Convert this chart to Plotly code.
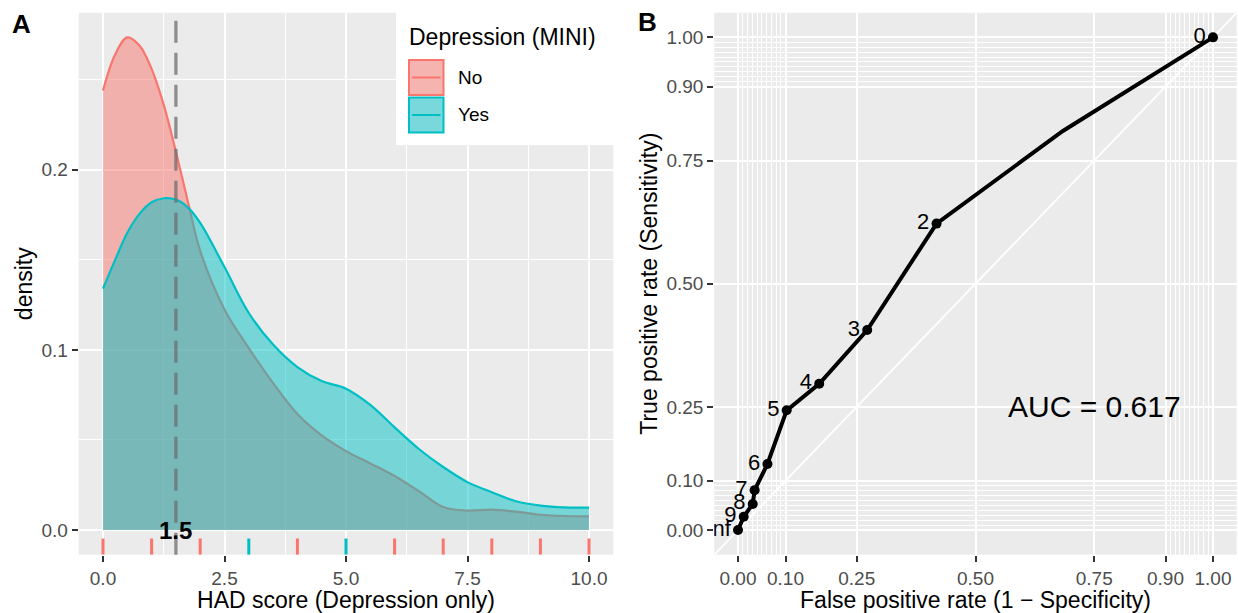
import plotly.graph_objects as go

# ---------------- data ----------------
# Panel A: density of HAD depression score by MINI depression status
dens_x = [0, 0.25, 0.5, 0.75, 1.0, 1.25, 1.5, 1.75, 2.0, 2.5, 3.0, 3.5, 4.0, 4.5,
          5.0, 5.5, 6.0, 6.5, 7.0, 7.5, 8.0, 8.5, 9.0, 9.5, 10.0]
dens_no = [0.244, 0.264, 0.2735, 0.269, 0.256, 0.236, 0.210, 0.182, 0.155, 0.1225,
           0.101, 0.0816, 0.0644, 0.0525, 0.0438, 0.037, 0.030, 0.0216, 0.0128,
           0.0108, 0.0113, 0.0102, 0.0085, 0.0078, 0.0076]
dens_yes = [0.134, 0.150, 0.165, 0.1755, 0.182, 0.1842, 0.1835, 0.179, 0.1705, 0.146,
            0.1205, 0.103, 0.0905, 0.0827, 0.0785, 0.0695, 0.057, 0.045, 0.035,
            0.0266, 0.021, 0.016, 0.0136, 0.0126, 0.0124]
rug_no = [0, 1, 2, 4, 6, 7, 8, 9, 10]
rug_yes = [3, 5]
cutpoint = 1.5
groups = ["No", "Yes"]

a_xticks = [0, 2.5, 5, 7.5, 10]
a_xticklabels = ["0.0", "2.5", "5.0", "7.5", "10.0"]
a_xminor = [1.25, 3.75, 6.25, 8.75]
a_yticks = [0, 0.1, 0.2]
a_yticklabels = ["0.0", "0.1", "0.2"]
a_yminor = [0.05, 0.15, 0.25]

# Panel B: ROC curve
roc_cut = ["Inf", "9", "8", "7", "6", "5", "4", "3", "2", "1", "0"]
roc_fpr = [0.0, 0.012, 0.031, 0.035, 0.062, 0.1025, 0.171, 0.272, 0.418, 0.684, 1.0]
roc_tpr = [0.0, 0.027, 0.053, 0.081, 0.134, 0.243, 0.297, 0.406, 0.622, 0.810, 1.0]
roc_labelled = [True, True, True, True, True, True, True, True, True, False, True]
auc_text = "AUC = 0.617"

b_ticks = [0, 0.1, 0.25, 0.5, 0.75, 0.9, 1.0]
b_ticklabels = ["0.00", "0.10", "0.25", "0.50", "0.75", "0.90", "1.00"]
b_minor = [0.01, 0.02, 0.03, 0.04, 0.05, 0.06, 0.07, 0.08, 0.09,
           0.91, 0.92, 0.93, 0.94, 0.95, 0.96, 0.97, 0.98, 0.99]

# ---------------- style ----------------
W, H = 1238, 613
FONT = "Liberation Sans, Arial, Helvetica, sans-serif"
RED, TEAL = "#F8766D", "#00BFC4"
PANEL = "#EBEBEB"
TICKC = "#4D4D4D"

a_xrange = [-0.5, 10.5]
a_yrange = [-0.01368, 0.2872]
b_range = [-0.05, 1.05]

def px(x):
    return x / W

def py(y):
    return 1 - y / H

ydom = [py(554.7), py(12.7)]

fig = go.Figure()

# density areas
fig.add_trace(go.Scatter(x=dens_x, y=dens_no, mode="lines", fill="tozeroy",
                         line=dict(color=RED, width=2.2, shape="spline", smoothing=1),
                         fillcolor="rgba(248,118,109,0.5)", name=groups[0],
                         xaxis="x", yaxis="y", showlegend=False))
fig.add_trace(go.Scatter(x=dens_x, y=dens_yes, mode="lines", fill="tozeroy",
                         line=dict(color=TEAL, width=2.2, shape="spline", smoothing=1),
                         fillcolor="rgba(0,191,196,0.5)", name=groups[1],
                         xaxis="x", yaxis="y", showlegend=False))

# rug
rug_len = 0.03 * (a_yrange[1] - a_yrange[0])
for vals, col in [(rug_no, RED), (rug_yes, TEAL)]:
    rx, ry = [], []
    for v in vals:
        rx += [v, v, None]
        ry += [a_yrange[0], a_yrange[0] + rug_len, None]
    fig.add_trace(go.Scatter(x=rx, y=ry, mode="lines", line=dict(color=col, width=3),
                             xaxis="x", yaxis="y", showlegend=False, hoverinfo="skip"))

# ROC panel
fig.add_trace(go.Scatter(x=b_range, y=b_range, mode="lines",
                         line=dict(color="white", width=1.8),
                         xaxis="x2", yaxis="y2", showlegend=False, hoverinfo="skip"))
fig.add_trace(go.Scatter(x=roc_fpr, y=roc_tpr, mode="lines",
                         line=dict(color="black", width=4),
                         xaxis="x2", yaxis="y2", showlegend=False))
lx = [f for f, k in zip(roc_fpr, roc_labelled) if k]
ly = [t for t, k in zip(roc_tpr, roc_labelled) if k]
lt = [c for c, k in zip(roc_cut, roc_labelled) if k]
fig.add_trace(go.Scatter(x=lx, y=ly, mode="markers+text", text=lt,
                         textposition="middle left",
                         textfont=dict(family=FONT, size=22, color="black"),
                         marker=dict(color="black", size=10),
                         cliponaxis=True,
                         xaxis="x2", yaxis="y2", showlegend=False))

axis_common = dict(showline=False, zeroline=False, showgrid=True, gridcolor="white",
                   gridwidth=2, ticks="outside", ticklen=6, tickwidth=2,
                   tickcolor="#333333", tickfont=dict(family=FONT, size=19, color=TICKC),
                   tickmode="array")
title_font = dict(family=FONT, size=23, color="black")

fig.update_layout(
    width=W, height=H, margin=dict(l=0, r=0, t=0, b=0),
    paper_bgcolor="white", plot_bgcolor=PANEL,
    font=dict(family=FONT),
    xaxis=dict(domain=[px(78.7), px(613.3)], range=a_xrange, anchor="y",
               tickvals=a_xticks, ticktext=a_xticklabels,
               minor=dict(tickvals=a_xminor, showgrid=True, gridcolor="white",
                          gridwidth=1, ticks=""),
               title=dict(text="HAD score (Depression only)", font=title_font, standoff=3),
               **axis_common),
    yaxis=dict(domain=ydom, range=a_yrange, anchor="x",
               tickvals=a_yticks, ticktext=a_yticklabels,
               minor=dict(tickvals=a_yminor, showgrid=True, gridcolor="white",
                          gridwidth=1, ticks=""),
               title=dict(text="density", font=title_font, standoff=2),
               **axis_common),
    xaxis2=dict(domain=[px(714.25), px(1236.75)], range=b_range, anchor="y2",
                tickvals=b_ticks, ticktext=b_ticklabels,
                minor=dict(tickvals=b_minor, showgrid=True, gridcolor="white",
                           gridwidth=1, ticks=""),
                title=dict(text="False positive rate (1 \u2212 Specificity)", font=title_font,
                           standoff=3),
                **axis_common),
    yaxis2=dict(domain=ydom, range=b_range, anchor="x2",
                tickvals=b_ticks, ticktext=b_ticklabels,
                minor=dict(tickvals=b_minor, showgrid=True, gridcolor="white",
                           gridwidth=1, ticks=""),
                title=dict(text="True positive rate (Sensitivity)", font=title_font,
                           standoff=2),
                **axis_common),
)

shapes = []
# dashed cutpoint line
shapes.append(dict(type="line", xref="x", yref="y domain", x0=cutpoint, x1=cutpoint,
                   y0=0, y1=1, line=dict(color="rgba(110,110,110,0.75)", width=3.3,
                                          dash="22px,10px"), layer="above"))
# manual legend
shapes.append(dict(type="rect", xref="paper", yref="paper", x0=px(396), x1=px(616),
                   y0=py(145), y1=py(0), fillcolor="white", line=dict(width=0),
                   layer="above"))
legend_rows = [(groups[0], RED, "#F5B4AF", 60, 95), (groups[1], TEAL, "#79D8DB", 97.5, 132.5)]
annotations = []
for name, col, fillc, y0, y1 in legend_rows:
    shapes.append(dict(type="rect", xref="paper", yref="paper", x0=px(409), x1=px(443.5),
                       y0=py(y1), y1=py(y0), fillcolor=fillc,
                       line=dict(color=col, width=2), layer="above"))
    ym = (y0 + y1) / 2
    shapes.append(dict(type="line", xref="paper", yref="paper", x0=px(412), x1=px(440.5),
                       y0=py(ym), y1=py(ym), line=dict(color=col, width=2), layer="above"))
    annotations.append(dict(xref="paper", yref="paper", x=px(456), y=py(ym), text=name,
                            showarrow=False, xanchor="left", yanchor="middle",
                            font=dict(family=FONT, size=19, color="black")))
annotations.append(dict(xref="paper", yref="paper", x=px(407), y=py(37),
                        text="Depression (MINI)", showarrow=False, xanchor="left",
                        yanchor="middle", font=dict(family=FONT, size=23, color="black")))
# cutpoint label
annotations.append(dict(xref="x", yref="y", x=cutpoint, y=0, text="<b>%g</b>" % cutpoint,
                        showarrow=False, xanchor="center", yanchor="middle",
                        font=dict(family=FONT, size=24, color="black")))
# AUC
annotations.append(dict(xref="x2", yref="y2", x=0.75, y=0.25, text=auc_text,
                        showarrow=False, xanchor="center", yanchor="middle",
                        font=dict(family=FONT, size=30, color="black")))
# panel tags
annotations.append(dict(xref="paper", yref="paper", x=px(10), y=py(24), text="<b>A</b>",
                        showarrow=False, xanchor="left", yanchor="middle",
                        font=dict(family=FONT, size=26, color="black")))
annotations.append(dict(xref="paper", yref="paper", x=px(636), y=py(22), text="<b>B</b>",
                        showarrow=False, xanchor="left", yanchor="middle",
                        font=dict(family=FONT, size=26, color="black")))

fig.update_layout(shapes=shapes, annotations=annotations)

fig.write_html("out.html", config={"displayModeBar": False},
               post_script="document.body.style.margin='0';")
